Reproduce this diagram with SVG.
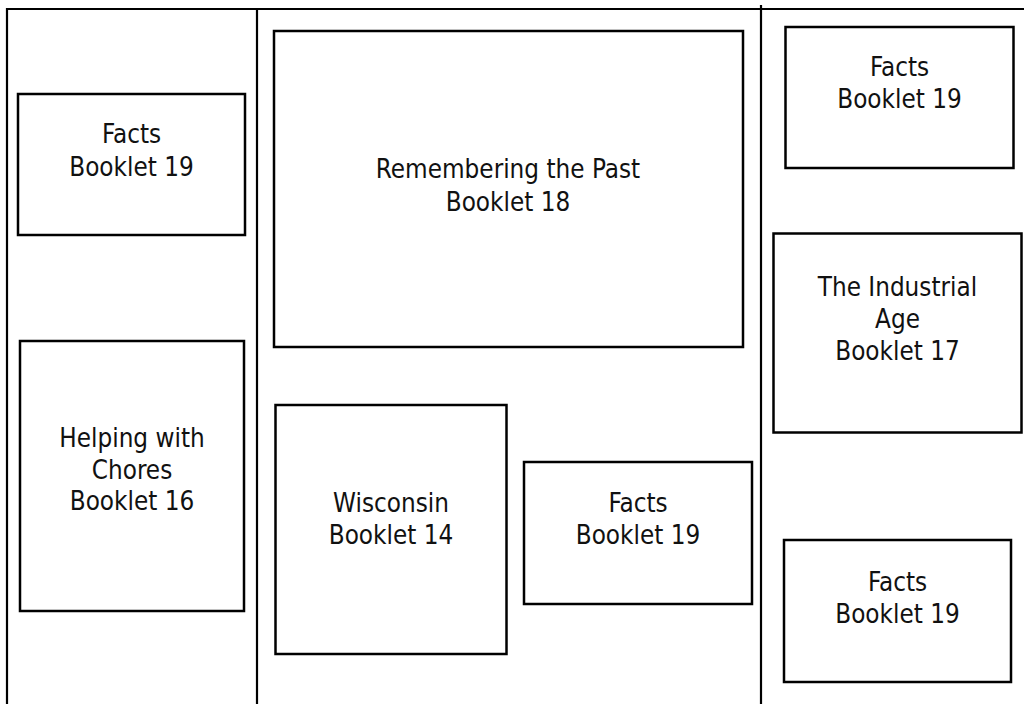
<svg xmlns="http://www.w3.org/2000/svg" width="1024" height="704" viewBox="0 0 1024 704">
<style>
.frame{fill:none;stroke:#000;stroke-width:2.2}
.box{fill:#fff;stroke:#000;stroke-width:2.5}
text{font-family:"DejaVu Sans Condensed","DejaVu Sans",sans-serif;font-stretch:condensed;font-size:25.8px;fill:#111;text-anchor:middle}
</style>
<rect width="1024" height="704" fill="#fff"/>
<g id="connectors">
<path class="frame" d="M7,704 V9 H1024"/>
<path class="frame" d="M257,9 V704"/>
<path class="frame" d="M761,5 V704"/>
</g>
<g id="facts-left">
<rect class="box" x="18" y="94" width="227" height="141"/>
<text x="131.5" y="143">Facts</text>
<text x="131.5" y="176">Booklet 19</text>
</g>
<g id="remembering">
<rect class="box" x="274" y="31" width="469" height="316"/>
<text x="508" y="178">Remembering the Past</text>
<text x="508" y="211">Booklet 18</text>
</g>
<g id="helping">
<rect class="box" x="20" y="341" width="224" height="270"/>
<text x="132" y="447">Helping with</text>
<text x="132" y="479">Chores</text>
<text x="132" y="510">Booklet 16</text>
</g>
<g id="wisconsin">
<rect class="box" x="275.5" y="405" width="231" height="249"/>
<text x="391" y="512">Wisconsin</text>
<text x="391" y="544">Booklet 14</text>
</g>
<g id="facts-middle">
<rect class="box" x="524" y="462" width="228" height="142"/>
<text x="638" y="512">Facts</text>
<text x="638" y="544">Booklet 19</text>
</g>
<g id="facts-top-right">
<rect class="box" x="785.5" y="27" width="228" height="141"/>
<text x="899.5" y="76">Facts</text>
<text x="899.5" y="108">Booklet 19</text>
</g>
<g id="industrial">
<rect class="box" x="773.5" y="233.5" width="248" height="199"/>
<text x="897.5" y="296">The Industrial</text>
<text x="897.5" y="328">Age</text>
<text x="897.5" y="360">Booklet 17</text>
</g>
<g id="facts-bottom-right">
<rect class="box" x="784" y="540" width="227" height="142"/>
<text x="897.5" y="591">Facts</text>
<text x="897.5" y="623">Booklet 19</text>
</g>
</svg>
